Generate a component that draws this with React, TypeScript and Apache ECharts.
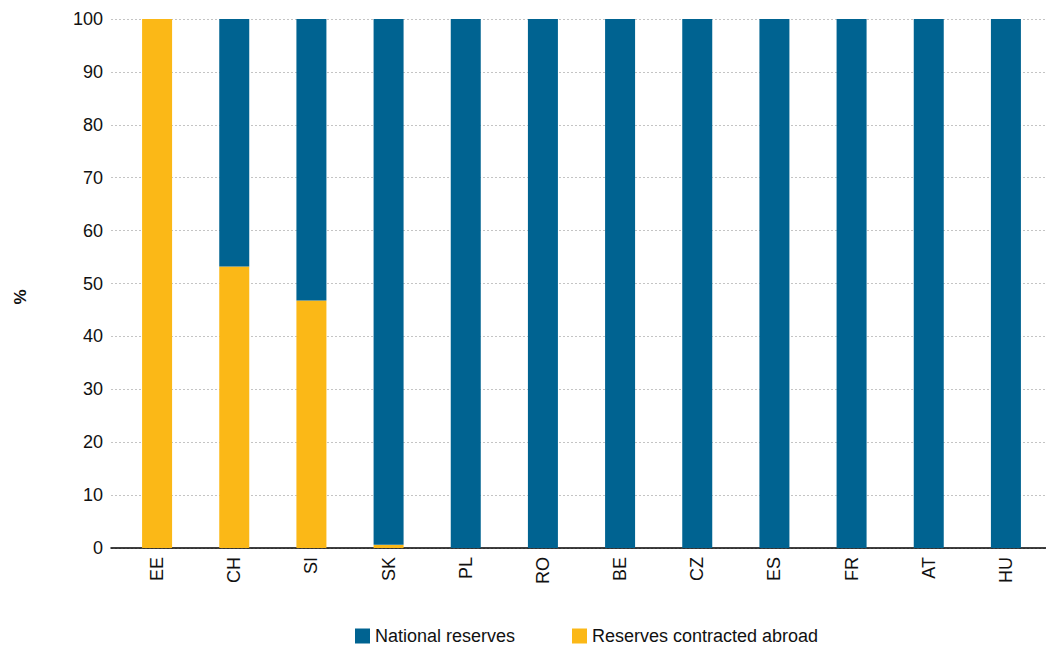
import React, { useEffect, useRef } from "react";
import * as echarts from "echarts";

const categories = ["EE", "CH", "SI", "SK", "PL", "RO", "BE", "CZ", "ES", "FR", "AT", "HU"];
const nationalReserves = [0, 46.8, 53.2, 99.4, 100, 100, 100, 100, 100, 100, 100, 100];
const reservesAbroad = [100, 53.2, 46.8, 0.6, 0, 0, 0, 0, 0, 0, 0, 0];
const yTicks = { min: 0, max: 100, interval: 10 };
const yAxisName = "%";

const FONT = "'Liberation Sans', Arial, sans-serif";
const BLUE = "#006391";
const YELLOW = "#FBB817";

export default function App() {
  const ref = useRef<HTMLDivElement>(null);
  useEffect(() => {
    document.body.style.margin = "0";
    if (!ref.current) return;
    const chart = echarts.init(ref.current, undefined, { renderer: "svg" });
    const legendText = { fontFamily: FONT, fontSize: 18, color: "#111" };
    chart.setOption({
      animation: false,
      textStyle: { fontFamily: FONT },
      graphic: [
        {
          type: "text",
          x: 20,
          y: 297,
          rotation: Math.PI / 2,
          style: {
            text: yAxisName,
            fontFamily: FONT,
            fontSize: 17,
            fontWeight: "bold",
            fill: "#111",
            align: "center",
            verticalAlign: "middle",
          },
        },
      ],
      legend: [
        {
          data: [{ name: "National reserves", itemStyle: { color: BLUE } }],
          left: 355,
          top: 627,
          padding: 0,
          icon: "rect",
          itemWidth: 15,
          itemHeight: 15,
          textStyle: legendText,
        },
        {
          data: [{ name: "Reserves contracted abroad", itemStyle: { color: YELLOW } }],
          left: 572,
          top: 627,
          padding: 0,
          icon: "rect",
          itemWidth: 15,
          itemHeight: 15,
          textStyle: legendText,
        },
      ],
      grid: [
        { left: 111, right: 0, top: 19, bottom: 97 },
        { left: 118.5, width: 926, top: 19, bottom: 97 },
      ],
      xAxis: [
        {
          type: "category",
          gridIndex: 0,
          data: [""],
          axisLine: { show: true, lineStyle: { color: "#000", width: 1.5 } },
          axisTick: { show: false },
          axisLabel: { show: false },
        },
        {
          type: "category",
          gridIndex: 1,
          data: categories,
          axisLine: { show: false },
          axisTick: { show: false },
          axisLabel: {
            rotate: 90,
            margin: 9,
            fontFamily: FONT,
            fontSize: 18,
            color: "#111",
          },
        },
      ],
      yAxis: [
        {
          type: "value",
          gridIndex: 0,
          min: yTicks.min,
          max: yTicks.max,
          interval: yTicks.interval,
          axisLine: { show: false },
          axisTick: { show: false },
          axisLabel: { margin: 8, fontFamily: FONT, fontSize: 18, color: "#111" },
          splitLine: { show: true, lineStyle: { color: "#c4c4c4", type: [2, 2], width: 1 } },
        },
        {
          type: "value",
          gridIndex: 1,
          min: yTicks.min,
          max: yTicks.max,
          interval: yTicks.interval,
          show: false,
          splitLine: { show: false },
        },
      ],
      series: [
        {
          name: "Reserves contracted abroad",
          type: "bar",
          stack: "s",
          xAxisIndex: 1,
          yAxisIndex: 1,
          barWidth: 30,
          data: reservesAbroad,
          itemStyle: { color: YELLOW },
        },
        {
          name: "National reserves",
          type: "bar",
          stack: "s",
          xAxisIndex: 1,
          yAxisIndex: 1,
          barWidth: 30,
          data: nationalReserves,
          itemStyle: { color: BLUE },
        },
      ],
    });
    return () => chart.dispose();
  }, []);
  return <div ref={ref} style={{ width: 1046, height: 645 }} />;
}
